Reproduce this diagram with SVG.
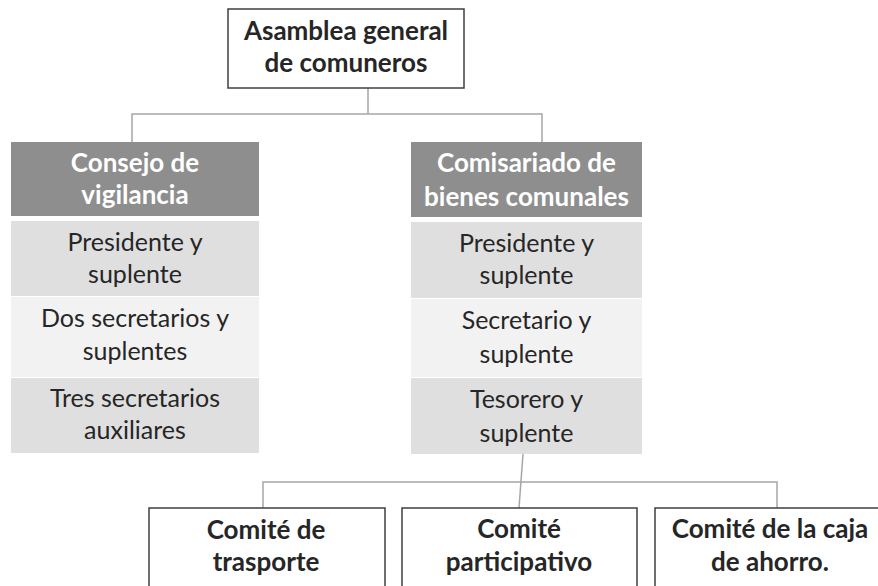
<svg xmlns="http://www.w3.org/2000/svg" width="878" height="586" viewBox="0 0 878 586">
<style>
.box{fill:#ffffff;stroke:#3f3f3f;stroke-width:1.5}
.hdr{fill:#8e8e8e}
.r1{fill:#dfdfdf}
.r2{fill:#f2f2f2}
.t{font-family:Lato,"Liberation Sans",sans-serif;font-size:25px;text-anchor:middle;fill:#262626}
.b{font-weight:bold;font-size:26px}
.w{fill:#ffffff}
.con{fill:none;stroke:#a6a6a6;stroke-width:1.5}
</style>
<rect width="878" height="586" fill="#ffffff"/>
<g id="connectors">
<path class="con" d="M368,88 V114"/>
<path class="con" d="M132,142 V114 H542 V142"/>
<path class="con" d="M523,454 L519,508"/>
<path class="con" d="M263,508 V482 H777 V508"/>
</g>
<g id="asamblea">
<rect class="box" x="228" y="9" width="236" height="79"/>
<text class="t b" x="346" y="40">Asamblea general</text>
<text class="t b" x="346" y="72">de comuneros</text>
</g>
<g id="consejo">
<rect class="hdr" x="11" y="142" width="248" height="74"/>
<text class="t b w" x="135" y="172">Consejo de</text>
<text class="t b w" x="135" y="204">vigilancia</text>
</g>
<g id="consejo-presidente">
<rect class="r1" x="11" y="221" width="248" height="75"/>
<text class="t" x="135" y="251">Presidente y</text>
<text class="t" x="135" y="283">suplente</text>
</g>
<g id="consejo-secretarios">
<rect class="r2" x="11" y="297" width="248" height="80"/>
<text class="t" x="135" y="327">Dos secretarios y</text>
<text class="t" x="135" y="360">suplentes</text>
</g>
<g id="consejo-auxiliares">
<rect class="r1" x="11" y="378" width="248" height="75"/>
<text class="t" x="135" y="407">Tres secretarios</text>
<text class="t" x="135" y="439">auxiliares</text>
</g>
<g id="comisariado">
<rect class="hdr" x="411" y="142" width="231" height="75"/>
<text class="t b w" x="526.5" y="172">Comisariado de</text>
<text class="t b w" x="526.5" y="206">bienes comunales</text>
</g>
<g id="comisariado-presidente">
<rect class="r1" x="411" y="222" width="231" height="76"/>
<text class="t" x="526.5" y="252">Presidente y</text>
<text class="t" x="526.5" y="284">suplente</text>
</g>
<g id="comisariado-secretario">
<rect class="r2" x="411" y="299" width="231" height="78"/>
<text class="t" x="526.5" y="329">Secretario y</text>
<text class="t" x="526.5" y="363">suplente</text>
</g>
<g id="comisariado-tesorero">
<rect class="r1" x="411" y="378" width="231" height="76"/>
<text class="t" x="526.5" y="408">Tesorero y</text>
<text class="t" x="526.5" y="442">suplente</text>
</g>
<g id="comite-trasporte">
<rect class="box" x="149" y="508" width="236" height="100"/>
<text class="t b" x="266" y="539">Comité de</text>
<text class="t b" x="266" y="571">trasporte</text>
</g>
<g id="comite-participativo">
<rect class="box" x="402" y="508" width="235" height="100"/>
<text class="t b" x="519" y="538">Comité</text>
<text class="t b" x="519" y="571">participativo</text>
</g>
<g id="comite-caja">
<rect class="box" x="655" y="508" width="236" height="100"/>
<text class="t b" x="770" y="538">Comité de la caja</text>
<text class="t b" x="770" y="571">de ahorro.</text>
</g>
</svg>
